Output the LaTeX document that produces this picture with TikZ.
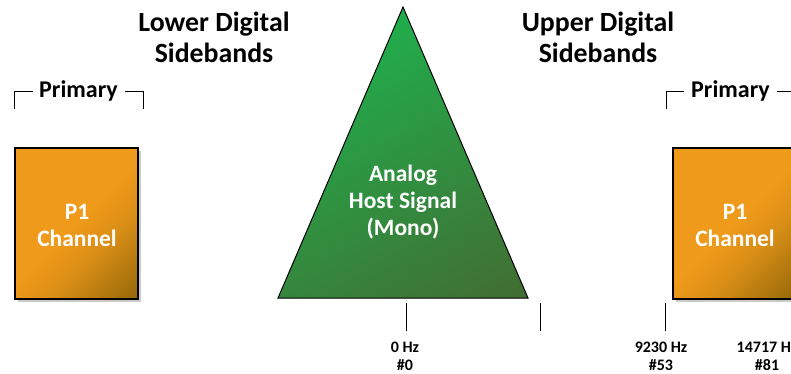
\documentclass[tikz,border=0pt]{standalone}
\usepackage{fontspec}
\setmainfont{Carlito}
\usetikzlibrary{shadows}
\definecolor{orng}{HTML}{EF9A1A}
\definecolor{brn}{HTML}{6A5000}
\definecolor{grn}{HTML}{22AB4B}
\definecolor{dgrn}{HTML}{4C5A2B}
\pgfdeclarehorizontalshading{boxsh}{100bp}{color(0bp)=(orng); color(50bp)=(orng); color(62bp)=(orng!85!brn); color(100bp)=(brn)}
\pgfdeclarehorizontalshading{trish}{100bp}{color(0bp)=(grn); color(30bp)=(grn); color(100bp)=(dgrn)}
\tikzset{
  title/.style={font=\bfseries\fontsize{27.8}{31}\selectfont, align=center, text=black},
  prim/.style={font=\bfseries\fontsize{24}{26}\selectfont, inner sep=0pt},
  chbox/.style={draw=black, line width=1.2pt, shading=boxsh, shading angle=-45,
    drop shadow={shadow xshift=3pt, shadow yshift=-3pt, fill=black!35, opacity=0.6}},
  intext/.style={font=\bfseries\fontsize{23.5}{27}\selectfont, text=white, align=center},
  tick/.style={line width=1pt},
  freq/.style={font=\bfseries\fontsize{16}{18}\selectfont, align=center},
  brk/.style={line width=0.8pt}
}
\begin{document}
\begin{tikzpicture}[x=1pt,y=-1pt]
\useasboundingbox (0,0) rectangle (791,374);
\clip (0,0) rectangle (791,374);
% titles
\node[title] (lt) at (214,37) {Lower Digital\\Sidebands};
\node[title] (ut) at (598,37) {Upper Digital\\Sidebands};
% primary labels with brackets
\node[prim] (lp) at (78.5,91) {Primary};
\node[prim] (rp) at (730.5,91) {Primary};
\coordinate (lb1) at (14,109);
\coordinate (lb2) at (14,91);
\coordinate (lb3) at (33,91);
\coordinate (lb4) at (125,91);
\coordinate (lb5) at (143,91);
\coordinate (lb6) at (143,109);
\draw[brk] (lb1) -- (lb2) -- (lb3);
\draw[brk] (lb4) -- (lb5) -- (lb6);
\coordinate (rb1) at (666,109);
\coordinate (rb2) at (666,91);
\coordinate (rb3) at (684,91);
\coordinate (rb4) at (777,91);
\coordinate (rb5) at (800,91);
\draw[brk] (rb1) -- (rb2) -- (rb3);
\draw[brk] (rb4) -- (rb5);
% channel boxes
\draw[chbox] (15,148) rectangle (138,299);
\node[intext] (lc) at (77,225) {P1\\Channel};
\draw[chbox] (673,148) rectangle (796,299);
\node[intext] (rc) at (735,225) {P1\\Channel};
% triangle
\draw[line width=1pt, shading=trish, shading angle=-60] (403,7) -- (528,298) -- (278,298) -- cycle;
\node[intext] (an) at (403,202) {Analog\\Host Signal\\(Mono)};
% ticks
\coordinate (t0a) at (406,303); \coordinate (t0b) at (406,331);
\coordinate (t1a) at (540,303); \coordinate (t1b) at (540,331);
\coordinate (t2a) at (665,303); \coordinate (t2b) at (665,331);
\draw[tick] (t0a) -- (t0b);
\draw[tick] (t1a) -- (t1b);
\draw[tick] (t2a) -- (t2b);
\node[freq] (f0) at (405,356) {0 Hz\\\#0};
\node[freq] (f1) at (661,356) {9230 Hz\\\#53};
\node[freq] (f2) at (767,356) {14717 Hz\\\#81};
\end{tikzpicture}
\end{document}
